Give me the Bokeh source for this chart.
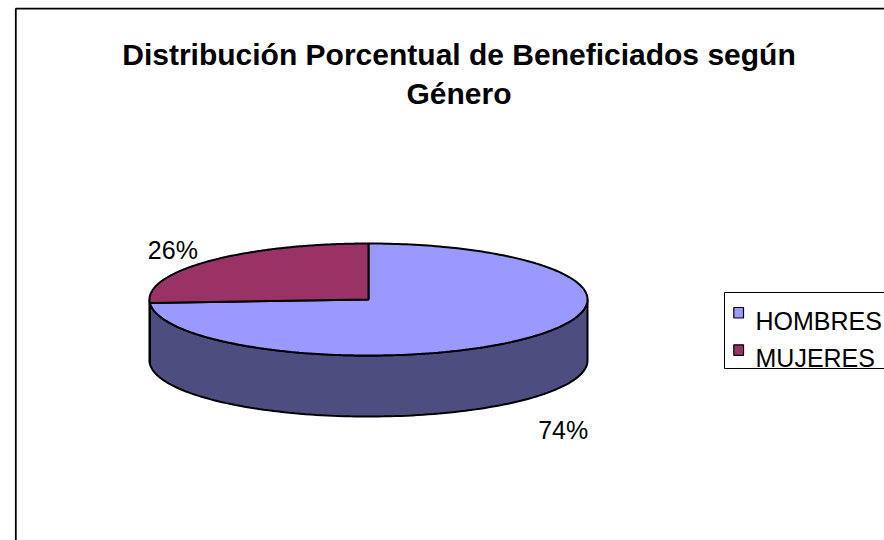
import numpy as np
from bokeh.plotting import figure
from bokeh.models import Range1d
from bokeh.core.properties import value
from bokeh.embed import file_html
from bokeh.resources import INLINE

# ---- data ----
categories = ["HOMBRES", "MUJERES"]
values = [74, 26]
pct_labels = ["74%", "26%"]
top_colors = ["#9999FF", "#993366"]
side_colors = ["#4D4D80", "#4D1A33"]
title_lines = ["Distribución Porcentual de Beneficiados según", "Género"]

# ---- layout / style ----
W, H = 884, 540
CX, CY, RX, RY, DEPTH = 368, 299, 219, 56, 61
FONT = value("Liberation Sans")
label_offsets = [(35, 31), (-36, -11.6)]

p = figure(width=W, height=H, x_range=Range1d(0, W), y_range=Range1d(H, 0),
           output_backend="svg", toolbar_location=None, min_border=0,
           background_fill_color="white", border_fill_color="white")
p.axis.visible = False
p.grid.visible = False
p.outline_line_color = None

# chart area border
p.quad(left=[15.3], right=[W + 20], top=[8.2], bottom=[H + 20],
       fill_color=None, line_color="black", line_width=1.8)

fr = np.array(values, dtype=float) / sum(values)
cum = np.concatenate([[0], np.cumsum(fr)[:-1]])
his = 90 - cum * 360
los = his - fr * 360


def pt(t_deg, dy=0.0):
    t = np.radians(t_deg)
    return CX + RX * np.cos(t), CY - RY * np.sin(t) + dy


# sides (front half)
side_xs, side_ys, side_c = [], [], []
for i in range(len(values)):
    for (a, b) in [(-180, 0), (180, 360), (-540, -360)]:
        lo, hi = max(los[i], a), min(his[i], b)
        if hi > lo:
            t = np.linspace(lo, hi, 120)
            x1, y1 = pt(t)
            x2, y2 = pt(t[::-1], DEPTH)
            side_xs.append(list(np.concatenate([x1, x2])))
            side_ys.append(list(np.concatenate([y1, y2])))
            side_c.append(side_colors[i])
p.patches(xs=side_xs, ys=side_ys, fill_color=side_c, line_color="black", line_width=2)

# tops
top_xs, top_ys = [], []
for i in range(len(values)):
    t = np.linspace(los[i], his[i], 240)
    x, y = pt(t)
    top_xs.append([CX] + list(x))
    top_ys.append([CY] + list(y))
p.patches(xs=top_xs, ys=top_ys, fill_color=top_colors, line_color="black", line_width=2)

# percentage labels
lx, ly = [], []
for i in range(len(values)):
    mid = (los[i] + his[i]) / 2
    x, y = pt(mid)
    if np.sin(np.radians(mid)) < 0:
        y += DEPTH
    lx.append(x + label_offsets[i][0])
    ly.append(y + label_offsets[i][1])
p.text(x=lx, y=ly, text=pct_labels, text_font=FONT, text_font_size="25px",
       text_align="center", text_baseline="alphabetic", text_color="black")

# title
p.text(x=[458.5, 458.5], y=[54.3, 92.5], text=title_lines, text_font=FONT,
       text_font_size="30px", text_font_style="bold", text_align="center",
       text_baseline="alphabetic", text_color="black")

# legend
LX, LY, LH = 724, 292, 76
p.quad(left=[LX], right=[W + 20], top=[LY], bottom=[LY + LH],
       fill_color="white", line_color="black", line_width=1)
sq_top = [307, 344.3]
p.quad(left=[733.3] * 2, right=[743] * 2, top=sq_top, bottom=[t + 10.5 for t in sq_top],
       fill_color=top_colors, line_color="black", line_width=1.2)
p.text(x=[755, 755], y=[320, 357.3], text=categories, text_font=FONT,
       text_font_size="25px", text_baseline="alphabetic", text_color="black")

open("out.html", "w").write(file_html(p, INLINE))
